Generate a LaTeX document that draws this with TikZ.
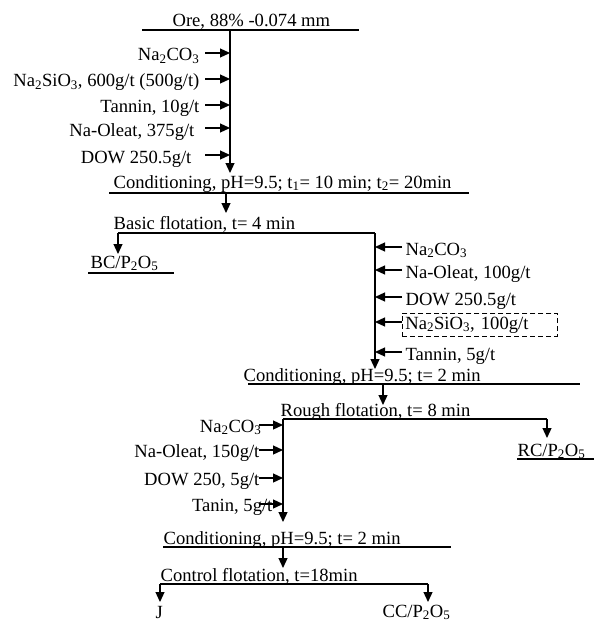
\documentclass[tikz,border=0pt]{standalone}
\usepackage{fontspec}
\setmainfont{Liberation Serif}
\usetikzlibrary{arrows.meta,positioning,calc}

\begin{document}
\begin{tikzpicture}[x=1pt,y=-1pt,font=\fontsize{18.6}{22}\selectfont,>={Triangle[length=10pt,width=9pt]},line width=1.2pt]
\tikzstyle{lbl}=[inner sep=0pt,anchor=base west]
\tikzstyle{feedL}=[inner sep=0pt,anchor=base east]
\tikzstyle{feedR}=[inner sep=0pt,anchor=base west]
\tikzstyle{dosebox}=[draw,dash pattern=on 5pt off 3pt,line width=0.8pt,anchor=west,inner xsep=3pt,inner ysep=3pt,text width=149pt,text height=13pt,text depth=4pt]
\clip (0,0) rectangle (594,623);

% feed
\node[lbl] (ore) at (172,27) {Ore, 88\% -0.074 mm};
\coordinate (oreL) at (142,30);
\coordinate (oreR) at (359,30);
\draw (oreL) -- (oreR);
\coordinate (tr1a) at (230,30);
\coordinate (tr1b) at (230,173);
\draw[->] (tr1a) -- (tr1b);

% first reagent set
\coordinate (a1) at (205,53);
\coordinate (a2) at (205,79);
\coordinate (a3) at (205,105);
\coordinate (a4) at (205,128);
\coordinate (a5) at (205,155);
\node[feedL] (r1) at (200,61) {Na\textsubscript{2}CO\textsubscript{3}};
\node[feedL] (r2) at (200,87) {Na\textsubscript{2}SiO\textsubscript{3}, 600g/t (500g/t)};
\node[feedL] (r3) at (200,113) {Tannin, 10g/t};
\node[feedL] (r4) at (195,136) {Na-Oleat, 375g/t};
\node[feedL] (r5) at (192,163) {DOW 250.5g/t};
\draw[->] (a1) -- (a1 -| tr1a);
\draw[->] (a2) -- (a2 -| tr1a);
\draw[->] (a3) -- (a3 -| tr1a);
\draw[->] (a4) -- (a4 -| tr1a);
\draw[->] (a5) -- (a5 -| tr1a);

% conditioning 1
\node[lbl] (cond1) at (113,188) {Conditioning, pH=9.5; t\textsubscript{1}= 10 min; t\textsubscript{2}= 20min};
\coordinate (c1L) at (109,193);
\coordinate (c1R) at (469,193);
\draw (c1L) -- (c1R);
\coordinate (tr2a) at (226,193);
\coordinate (tr2b) at (226,213);
\draw[->] (tr2a) -- (tr2b);

% basic flotation
\node[lbl] (basic) at (113,229) {Basic flotation, t= 4 min};
\coordinate (bL) at (118,233);
\coordinate (bR) at (375,233);
\draw (bL) -- (bR);
\coordinate (bcTip) at (118,254);
\draw[->] (bL) -- (bcTip);
\node[lbl] (bc) at (90,268) {BC/P\textsubscript{2}O\textsubscript{5}};
\coordinate (bcL) at (88,273);
\coordinate (bcR) at (174,273);
\draw (bcL) -- (bcR);
\coordinate (tr3b) at (375,369);
\draw[->] (bR) -- (tr3b);

% second reagent set
\coordinate (b1) at (402,247);
\coordinate (b2) at (402,270);
\coordinate (b3) at (402,297);
\coordinate (b4) at (402,322);
\coordinate (b5) at (402,352);
\node[feedR] (s1) at (405,255) {Na\textsubscript{2}CO\textsubscript{3}};
\node[feedR] (s2) at (405,278) {Na-Oleat, 100g/t};
\node[feedR] (s3) at (405,305) {DOW 250.5g/t};
\node[dosebox] (s4) at (402,324.5) {Na\textsubscript{2}SiO\textsubscript{3}, 100g/t};
\node[feedR] (s5) at (405,360) {Tannin, 5g/t};
\draw[->] (b1) -- (b1 -| bR);
\draw[->] (b2) -- (b2 -| bR);
\draw[->] (b3) -- (b3 -| bR);
\draw[->] (b4) -- (b4 -| bR);
\draw[->] (b5) -- (b5 -| bR);

% conditioning 2
\node[lbl] (cond2) at (243,381) {Conditioning, pH=9.5; t= 2 min};
\coordinate (c2L) at (248,384);
\coordinate (c2R) at (580,384);
\draw (c2L) -- (c2R);
\coordinate (tr4a) at (383,384);
\coordinate (tr4b) at (383,405);
\draw[->] (tr4a) -- (tr4b);

% rough flotation
\node[lbl] (rough) at (280,416) {Rough flotation, t= 8 min};
\coordinate (rL) at (283,419);
\coordinate (rR) at (547,419);
\draw (rL) -- (rR);
\coordinate (rcTip) at (547,438);
\draw[->] (rR) -- (rcTip);
\node[lbl] (rc) at (517,456) {RC/P\textsubscript{2}O\textsubscript{5}};
\coordinate (rcL) at (517,459);
\coordinate (rcR) at (594,459);
\draw (rcL) -- (rcR);
\coordinate (tr5b) at (283,522);
\draw[->] (rL) -- (tr5b);

% third reagent set
\coordinate (d1) at (259,425);
\coordinate (d2) at (259,450);
\coordinate (d3) at (259,478);
\coordinate (d4) at (259,504);
\node[feedL] (u1) at (262,432) {Na\textsubscript{2}CO\textsubscript{3}};
\node[feedL] (u2) at (260,457) {Na-Oleat, 150g/t};
\node[feedL] (u3) at (260,485) {DOW 250, 5g/t};
\node[feedL] (u4) at (273,511) {Tanin, 5g/t};
\draw[->] (d1) -- (d1 -| rL);
\draw[->] (d2) -- (d2 -| rL);
\draw[->] (d3) -- (d3 -| rL);
\draw[->] (d4) -- (d4 -| rL);

% conditioning 3
\node[lbl] (cond3) at (163,544) {Conditioning, pH=9.5; t= 2 min};
\coordinate (c3L) at (163,547);
\coordinate (c3R) at (451,547);
\draw (c3L) -- (c3R);
\coordinate (tr6a) at (283,547);
\coordinate (tr6b) at (283,568);
\draw[->] (tr6a) -- (tr6b);

% control flotation
\node[lbl] (control) at (160,581) {Control flotation, t=18min};
\coordinate (kL) at (160,584);
\coordinate (kR) at (428,584);
\draw (kL) -- (kR);
\coordinate (jTip) at (160,602);
\coordinate (ccTip) at (428,602);
\draw[->] (kL) -- (jTip);
\draw[->] (kR) -- (ccTip);
\node[lbl] (j) at (155,618) {J};
\node[lbl] (cc) at (382,617) {CC/P\textsubscript{2}O\textsubscript{5}};
\end{tikzpicture}
\end{document}
